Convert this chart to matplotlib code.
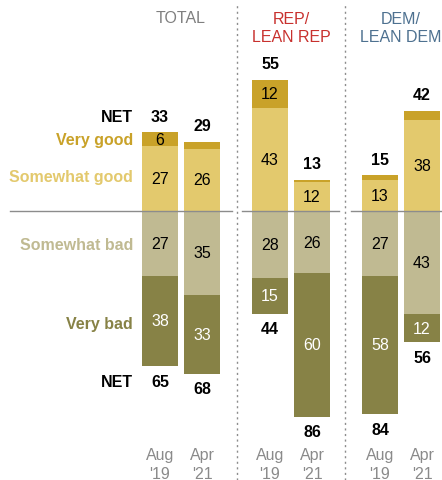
import matplotlib.pyplot as plt

plt.rcParams['font.family'] = ['Liberation Sans', 'DejaVu Sans']

# data
groups = ["TOTAL", "REP/\nLEAN REP", "DEM/\nLEAN DEM"]
periods = ["Aug\n'19", "Apr\n'21"]
very_good = [6, 3, 12, 1, 2, 4]
somewhat_good = [27, 26, 43, 12, 13, 38]
somewhat_bad = [27, 35, 28, 26, 27, 43]
very_bad = [38, 33, 15, 60, 58, 12]
net_good = [33, 29, 55, 13, 15, 42]
net_bad = [65, 68, 44, 86, 84, 56]
row_labels = ["Very good", "Somewhat good", "Somewhat bad", "Very bad"]

# styles
c_vg, c_sg, c_sb, c_vb = "#C9A229", "#E3C96D", "#C0BA92", "#878246"
title_colors = ["#7f7f7f", "#C8312E", "#4E7190"]

xs = [160, 202, 270, 312, 380, 422]
w = 36
pxu = 2.39  # pixels per point


def py(p):
    # pixel row (from top) -> data value
    return (212 - p) / pxu


fig = plt.figure(figsize=(4.42, 4.81), dpi=100)
ax = fig.add_axes([0, 0, 1, 1])
ax.set_xlim(0, 442)
ax.set_ylim(py(481), py(0))
ax.axis('off')

fs = 11.5
for i, x in enumerate(xs):
    sg, vg = somewhat_good[i], very_good[i]
    sb, vb = somewhat_bad[i], very_bad[i]
    ax.bar(x, sg, w, bottom=0, color=c_sg, lw=0)
    ax.bar(x, vg, w, bottom=sg, color=c_vg, lw=0)
    ax.bar(x, -sb, w, bottom=0, color=c_sb, lw=0)
    ax.bar(x, -vb, w, bottom=-sb, color=c_vb, lw=0)
    ax.text(x, sg / 2, str(sg), ha='center', va='center', fontsize=fs, color='black')
    if vg >= 5:
        ax.text(x, sg + vg / 2, str(vg), ha='center', va='center', fontsize=fs, color='black')
    ax.text(x, -sb / 2, str(sb), ha='center', va='center', fontsize=fs, color='black')
    ax.text(x, -sb - vb / 2, str(vb), ha='center', va='center', fontsize=fs, color='white')
    ax.text(x, sg + vg + 16 / pxu, str(net_good[i]), ha='center', va='center',
            fontsize=fs, fontweight='bold')
    ax.text(x, -sb - vb - 15 / pxu, str(net_bad[i]), ha='center', va='center',
            fontsize=fs, fontweight='bold')
    ax.text(x, py(465), periods[i % 2], ha='center', va='center',
            fontsize=fs, color='#8a8a8a', linespacing=1.4)

# group titles
ax.text(181, py(19), groups[0], ha='center', va='center', fontsize=fs, color=title_colors[0])
for g, gx, col in zip(groups[1:], [291, 401], title_colors[1:]):
    ax.text(gx, py(28.5), g, ha='center', va='center', fontsize=fs,
            color=col, linespacing=1.3)

# row labels (first group)
lx = 133
ax.text(lx, py(118), "NET", ha='right', va='center', fontsize=fs, fontweight='bold')
ax.text(lx, py(141), row_labels[0], ha='right', va='center', fontsize=fs,
        fontweight='bold', color=c_vg)
ax.text(lx, py(178), row_labels[1], ha='right', va='center', fontsize=fs,
        fontweight='bold', color=c_sg)
ax.text(lx, py(246), row_labels[2], ha='right', va='center', fontsize=fs,
        fontweight='bold', color=c_sb)
ax.text(lx, py(325), row_labels[3], ha='right', va='center', fontsize=fs,
        fontweight='bold', color=c_vb)
ax.text(lx, py(383), "NET", ha='right', va='center', fontsize=fs, fontweight='bold')

# zero line with gaps at dividers
for a, b in [(10, 232), (242, 339), (351, 442)]:
    ax.plot([a, b], [0, 0], color='#8c8c8c', lw=1)

# dotted dividers
for dx in [237, 345]:
    ax.plot([dx, dx], [py(481), py(5)], color='#8c8c8c',
            lw=1, linestyle=(0, (1.5, 2.5)))

fig.savefig("out.png", dpi=100)
